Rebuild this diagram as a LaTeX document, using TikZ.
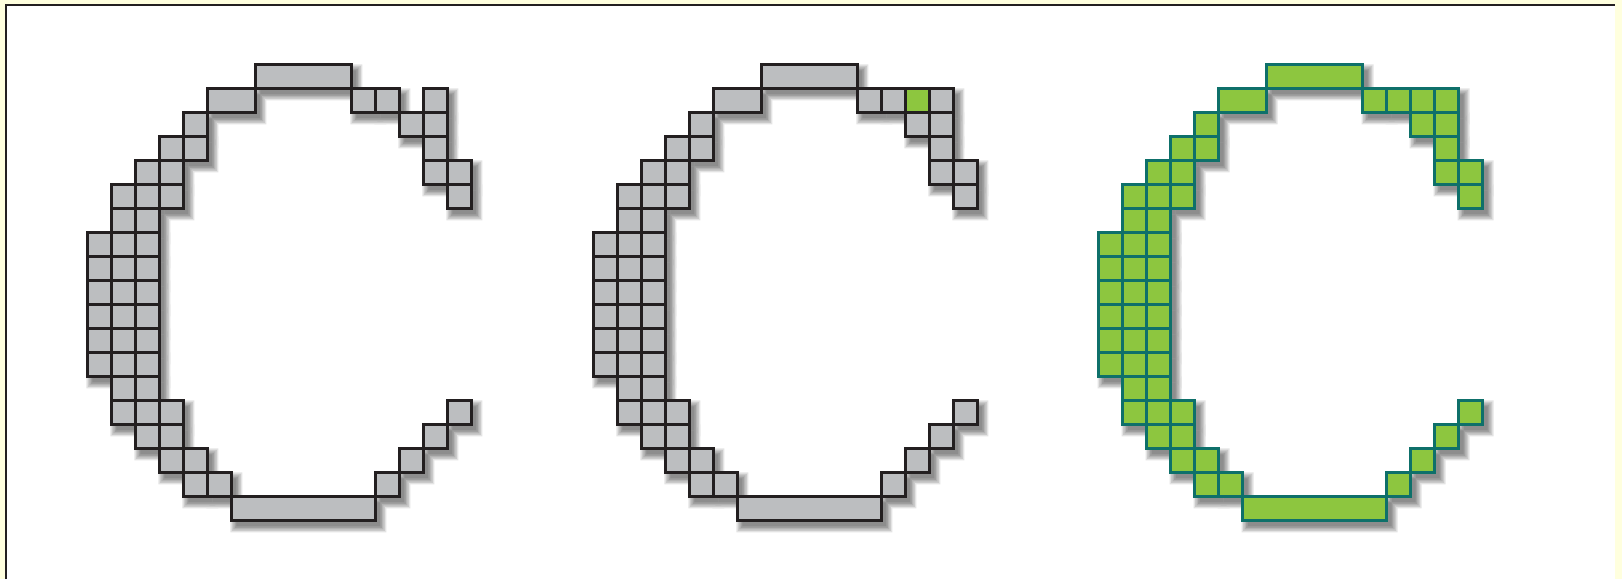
\documentclass[tikz,border=0pt]{standalone}
\usepackage{tikz}

\definecolor{paleyellow}{RGB}{255,255,222}
\definecolor{cellgray}{RGB}{188,190,192}
\definecolor{edgeblack}{RGB}{35,31,32}
\definecolor{cellgreen}{RGB}{141,198,63}
\definecolor{edgeteal}{RGB}{14,112,106}

% cells of the letter: column/row/width (one unit = one 24px square)
\newcommand{\Ccells}{7/0/4, 5/1/2, 11/1/1, 12/1/1, 14/1/1,
  4/2/1, 13/2/1, 14/2/1, 3/3/1, 4/3/1, 14/3/1,
  2/4/1, 3/4/1, 14/4/1, 15/4/1, 1/5/1, 2/5/1, 3/5/1, 15/5/1,
  1/6/1, 2/6/1,
  0/7/1, 1/7/1, 2/7/1, 0/8/1, 1/8/1, 2/8/1, 0/9/1, 1/9/1, 2/9/1,
  0/10/1, 1/10/1, 2/10/1, 0/11/1, 1/11/1, 2/11/1, 0/12/1, 1/12/1, 2/12/1,
  1/13/1, 2/13/1, 1/14/1, 2/14/1, 3/14/1, 15/14/1,
  2/15/1, 3/15/1, 14/15/1, 3/16/1, 4/16/1, 13/16/1,
  4/17/1, 5/17/1, 12/17/1, 6/18/6}
% same letter with the square at column 13 of row 1 filled in
\edef\Ccellsfull{13/1/1, \Ccells}

% soft drop shadow under one letter, #1 = left edge, #2 = cell list
\newcommand{\Cshadow}[2]{%
  \foreach \s in {0,1.5,3,4.5,6}{%
    \begin{scope}[transparency group, opacity=0.11]
      \foreach \c/\r/\w in #2
        \fill[black] ({#1+24*\c+5-\s},{64.3+24*\r+6-\s}) rectangle ++({24*\w+2*\s},{24+2*\s});
    \end{scope}}}

% the squares of one letter, #1 = left edge, #2 = style, #3 = cell list
\newcommand{\Cletter}[3]{%
  \foreach \c/\r/\w in #3
    \draw[#2] ({#1+24*\c},{64.3+24*\r}) rectangle ++({24*\w},24);}

\begin{document}
\begin{tikzpicture}[x=0.75pt,y=0.75pt,yscale=-1,xscale=1,
  graycell/.style={fill=cellgray, draw=edgeblack, line width=2pt, line join=miter},
  greencell/.style={fill=cellgreen, draw=edgeteal, line width=2pt, line join=miter}]
\useasboundingbox (0,0) rectangle (1622,579);

%Background and frame
\fill[paleyellow] (0,0) rectangle (1622,579);
\fill[white] (6,5) rectangle (1615,579);
\draw[edgeblack, line width=1pt] (6,579) -- (6,5) -- (1615,5);

%Shadows
\Cshadow{87.3}{\Ccells}
\Cshadow{593.3}{\Ccellsfull}
\Cshadow{1098.6}{\Ccellsfull}

%Left letter: gray, without the square at column 13 of row 1
\Cletter{87.3}{graycell}{\Ccells}

%Middle letter: gray with one green square
\Cletter{593.3}{graycell}{\Ccells}
\draw[fill=cellgreen, draw=edgeblack, line width=2pt] ({593.3+24*13},{64.3+24}) rectangle ++(24,24);

%Right letter: all green
\Cletter{1098.6}{greencell}{\Ccellsfull}

\end{tikzpicture}
\end{document}
